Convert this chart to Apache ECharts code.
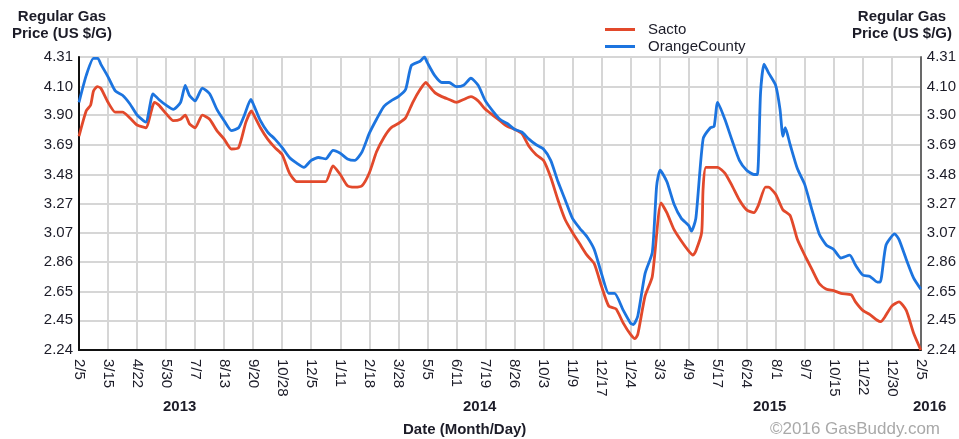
<!DOCTYPE html>
<html>
<head>
<meta charset="utf-8">
<script src="https://cdn.jsdelivr.net/npm/echarts@6/dist/echarts.min.js"></script>
<style>
  html, body { margin: 0; padding: 0; background: #fff; }
  #main { width: 959px; height: 439px; }
</style>
</head>
<body>
<div id="main"></div>
<script>
// tick labels along the bottom (one per grid column)
var xLabels = ['2/5', '3/15', '4/22', '5/30', '7/7', '8/13', '9/20', '10/28', '12/5', '1/11',
  '2/18', '3/28', '5/5', '6/11', '7/19', '8/26', '10/3', '11/9', '12/17', '1/24',
  '3/3', '4/9', '5/17', '6/24', '8/1', '9/7', '10/15', '11/22', '12/30', '2/5'];

var yTicks = [2.24, 2.45, 2.65, 2.86, 3.07, 3.27, 3.48, 3.69, 3.90, 4.10, 4.31];

// x position measured in tick columns (0 = 2/5/2013, 29 = 2/5/2016)
var sactoT = [0, 0.25, 0.4, 0.5, 0.63, 0.75, 1, 1.25, 1.5, 1.75, 2, 2.3, 2.6, 2.75, 3, 3.25, 3.5, 3.66, 3.8, 4,
  4.25, 4.5, 4.75, 5, 5.25, 5.5, 5.75, 5.94, 6, 6.25, 6.5, 6.75, 7, 7.25, 7.5, 7.75, 8, 8.25, 8.5, 8.75,
  9, 9.25, 9.5, 9.75, 10, 10.25, 10.5, 10.75, 11, 11.25, 11.5, 11.75, 11.95, 12, 12.25, 12.5, 12.75, 13, 13.25, 13.5,
  13.75, 14, 14.25, 14.5, 14.75, 15, 15.25, 15.5, 15.75, 16, 16.25, 16.5, 16.75, 17, 17.25, 17.5, 17.75, 18, 18.25, 18.5,
  18.75, 19, 19.15, 19.25, 19.5, 19.75, 20.05, 20.25, 20.5, 20.75, 21, 21.15, 21.25, 21.45, 21.5, 21.6, 22, 22.25, 22.5, 22.75,
  23, 23.25, 23.4, 23.65, 23.75, 24, 24.25, 24.5, 24.75, 25, 25.25, 25.5, 25.75, 26, 26.25, 26.6, 26.75, 27, 27.25, 27.5,
  27.62, 27.75, 28, 28.25, 28.5, 28.75, 29];
var sactoV = [3.75, 3.93, 3.97, 4.07, 4.10, 4.09, 3.99, 3.92, 3.92, 3.88, 3.83, 3.81, 3.99, 3.97, 3.91, 3.86, 3.87, 3.90, 3.84, 3.81,
  3.90, 3.87, 3.79, 3.73, 3.66, 3.67, 3.85, 3.93, 3.91, 3.81, 3.73, 3.67, 3.62, 3.49, 3.43, 3.43, 3.43, 3.43, 3.43, 3.54,
  3.48, 3.40, 3.39, 3.40, 3.49, 3.64, 3.74, 3.81, 3.84, 3.88, 3.99, 4.08, 4.13, 4.12, 4.06, 4.03, 4.01, 3.99, 4.01, 4.03,
  4.00, 3.94, 3.90, 3.86, 3.82, 3.80, 3.77, 3.68, 3.62, 3.58, 3.46, 3.30, 3.16, 3.07, 2.99, 2.91, 2.85, 2.69, 2.55, 2.53,
  2.43, 2.35, 2.32, 2.35, 2.62, 2.76, 3.28, 3.21, 3.09, 3.01, 2.94, 2.91, 2.94, 3.07, 3.38, 3.53, 3.53, 3.49, 3.40, 3.30,
  3.23, 3.21, 3.26, 3.39, 3.39, 3.34, 3.23, 3.19, 3.02, 2.91, 2.81, 2.71, 2.67, 2.66, 2.64, 2.63, 2.58, 2.52, 2.49, 2.45,
  2.44, 2.47, 2.55, 2.58, 2.52, 2.36, 2.24];

var orangeT = [0, 0.25, 0.5, 0.65, 0.75, 1, 1.25, 1.5, 1.75, 2, 2.3, 2.55, 2.75, 3, 3.25, 3.5, 3.66, 3.8, 4, 4.25,
  4.5, 4.75, 5, 5.25, 5.5, 5.7, 5.92, 6, 6.25, 6.5, 6.75, 7, 7.25, 7.5, 7.75, 8, 8.25, 8.5, 8.75, 9,
  9.25, 9.5, 9.75, 10, 10.25, 10.5, 10.75, 11, 11.25, 11.45, 11.75, 11.9, 12, 12.25, 12.5, 12.75, 13, 13.25, 13.5, 13.75,
  14, 14.25, 14.5, 14.75, 15, 15.25, 15.5, 15.75, 16, 16.25, 16.5, 16.75, 17, 17.25, 17.5, 17.75, 18, 18.25, 18.45, 18.75,
  19, 19.1, 19.25, 19.5, 19.75, 19.9, 20.02, 20.25, 20.5, 20.75, 21, 21.1, 21.25, 21.5, 21.75, 21.88, 22, 22.25, 22.5, 22.75,
  23, 23.25, 23.37, 23.48, 23.6, 23.75, 24, 24.15, 24.25, 24.33, 24.5, 24.75, 25, 25.25, 25.5, 25.75, 26, 26.25, 26.55, 26.75,
  27, 27.25, 27.5, 27.6, 27.8, 28.1, 28.25, 28.5, 28.75, 29];
var orangeV = [3.99, 4.18, 4.30, 4.30, 4.26, 4.17, 4.07, 4.04, 3.98, 3.90, 3.85, 4.05, 4.01, 3.97, 3.94, 3.99, 4.11, 4.04, 4.00, 4.09,
  4.05, 3.94, 3.86, 3.79, 3.81, 3.90, 4.01, 3.98, 3.86, 3.78, 3.73, 3.67, 3.60, 3.56, 3.53, 3.58, 3.60, 3.59, 3.65, 3.63,
  3.59, 3.58, 3.64, 3.77, 3.87, 3.96, 4.00, 4.03, 4.08, 4.25, 4.28, 4.31, 4.27, 4.18, 4.13, 4.13, 4.10, 4.11, 4.16, 4.11,
  4.00, 3.93, 3.87, 3.84, 3.80, 3.78, 3.73, 3.69, 3.66, 3.58, 3.43, 3.30, 3.17, 3.10, 3.04, 2.95, 2.78, 2.64, 2.64, 2.52,
  2.43, 2.42, 2.48, 2.78, 2.93, 3.40, 3.51, 3.43, 3.27, 3.17, 3.12, 3.08, 3.17, 3.73, 3.81, 3.82, 3.99, 3.87, 3.72, 3.58,
  3.51, 3.48, 3.48, 4.06, 4.26, 4.20, 4.11, 3.94, 3.75, 3.81, 3.69, 3.52, 3.41, 3.23, 3.06, 2.98, 2.95, 2.89, 2.91, 2.84,
  2.77, 2.76, 2.72, 2.72, 2.98, 3.06, 3.02, 2.88, 2.75, 2.67];

var years = ['2013', '2014', '2015', '2016'];

function pairs(ts, vs) {
  return ts.map(function (t, i) { return [t, vs[i]]; });
}

var chart = echarts.init(document.getElementById('main'), null, { renderer: 'canvas' });

var font = 'Liberation Sans, Arial, sans-serif';
var txt = '#1c1c28';

var yAxisBase = {
  type: 'value',
  min: yTicks[0],
  max: yTicks[yTicks.length - 1],
  axisTick: { show: false, customValues: yTicks },
  axisLabel: {
    customValues: yTicks,
    formatter: function (v) { return v.toFixed(2); },
    color: txt, fontSize: 15, fontFamily: font, margin: 6
  }
};

var option = {
  backgroundColor: '#fff',
  animation: false,
  grid: {
    left: 79, right: 33, top: 57, bottom: 89,
    show: true, borderColor: '#555', borderWidth: 1.5
  },
  legend: {
    orient: 'vertical',
    left: 600, top: 17,
    itemWidth: 30, itemHeight: 3, itemGap: 2,
    textStyle: { color: txt, fontSize: 15, fontFamily: font, padding: [0, 0, 0, 8] },
    data: [
      { name: 'Sacto', icon: 'rect' },
      { name: 'OrangeCounty', icon: 'rect' }
    ]
  },
  xAxis: {
    type: 'value',
    min: 0, max: xLabels.length - 1, interval: 1,
    axisLine: { lineStyle: { color: '#111', width: 2 } },
    axisTick: { show: false },
    splitLine: { show: true, lineStyle: { color: '#d6d6d6', width: 2 } },
    axisLabel: {
      rotate: -90, margin: 9,
      color: txt, fontSize: 15, fontFamily: font,
      formatter: function (v) { return xLabels[Math.round(v)]; }
    }
  },
  yAxis: [
    Object.assign({}, yAxisBase, {
      position: 'left',
      axisLine: { show: true, lineStyle: { color: '#111', width: 2 } },
      splitLine: { show: true, lineStyle: { color: '#d6d6d6', width: 2 } }
    }),
    Object.assign({}, yAxisBase, {
      position: 'right',
      axisLine: { show: true, lineStyle: { color: '#444', width: 1.5 } },
      splitLine: { show: false }
    })
  ],
  series: [
    {
      name: 'Sacto', type: 'line', showSymbol: false, smooth: 0.2,
      color: '#e2492b',
      lineStyle: { width: 2.8, color: '#e2492b' },
      data: pairs(sactoT, sactoV),
      z: 3
    },
    {
      name: 'OrangeCounty', type: 'line', showSymbol: false, smooth: 0.2,
      color: '#1c74df',
      lineStyle: { width: 2.8, color: '#1c74df' },
      data: pairs(orangeT, orangeV),
      z: 4
    }
  ],
  graphic: [
    { type: 'text', left: 12, top: 8, style: { text: 'Regular Gas\nPrice (US $/G)', font: 'bold 15px ' + font, fill: txt, textAlign: 'center', lineHeight: 17 } },
    { type: 'text', right: 7, top: 8, style: { text: 'Regular Gas\nPrice (US $/G)', font: 'bold 15px ' + font, fill: txt, textAlign: 'center', lineHeight: 17 } },
    { type: 'text', left: 163, top: 399, style: { text: years[0], font: 'bold 15px ' + font, fill: txt } },
    { type: 'text', left: 463, top: 399, style: { text: years[1], font: 'bold 15px ' + font, fill: txt } },
    { type: 'text', left: 753, top: 399, style: { text: years[2], font: 'bold 15px ' + font, fill: txt } },
    { type: 'text', left: 913, top: 399, style: { text: years[3], font: 'bold 15px ' + font, fill: txt } },
    { type: 'text', left: 403, top: 422, style: { text: 'Date (Month/Day)', font: 'bold 15px ' + font, fill: txt } },
    { type: 'text', left: 770, top: 421, style: { text: '\u00a92016 GasBuddy.com', font: '17px ' + font, fill: '#a9a9a9' } }
  ]
};

chart.setOption(option);
</script>
</body>
</html>
